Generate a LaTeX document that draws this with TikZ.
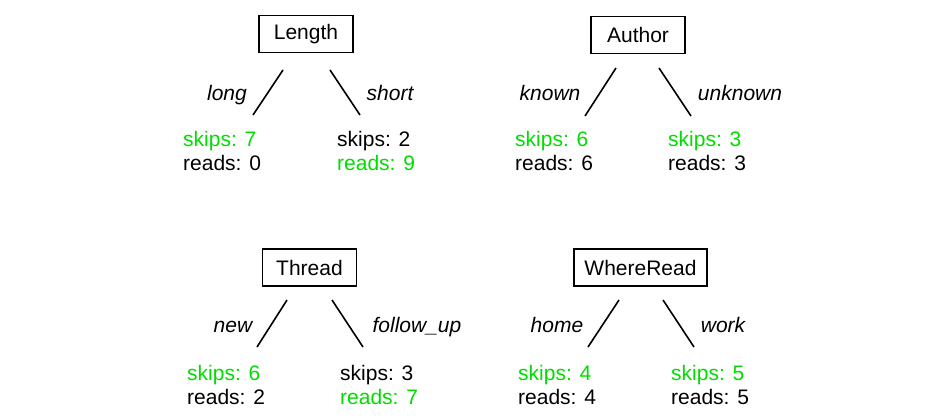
\documentclass[tikz,border=0pt]{standalone}
\usepackage{fontspec}
\setmainfont{Liberation Sans}
\definecolor{hit}{RGB}{0,221,0}
\begin{document}
\begin{tikzpicture}[x=1pt,y=-1pt,
  attr/.style={draw=black,line width=1.6pt,font=\fontsize{21}{25}\selectfont,minimum width=94pt,minimum height=37pt,inner xsep=10.5pt,inner ysep=0pt},
  val/.style={font=\fontsize{21}{25}\selectfont\itshape,anchor=base,inner sep=0pt},
  leaf/.style={font=\fontsize{21}{25}\selectfont,anchor=base west,inner sep=0pt},
  branch/.style={line width=1.6pt}]
\useasboundingbox (0,0) rectangle (950,420);
% Length
\node[attr] (len) at (306,34) {Length};
\coordinate (lenA1) at (283,70); \coordinate (lenA2) at (253,115);
\coordinate (lenB1) at (330,70); \coordinate (lenB2) at (360,115);
\draw[branch] (lenA1) -- (lenA2);
\draw[branch] (lenB1) -- (lenB2);
\node[val] (lenl) at (227,100) {long};
\node[val] (lens) at (390,100) {short};
\node[leaf,text=hit] (lenls) at (183,146) {skips: 7};
\node[leaf] (lenlr) at (183,170) {reads: 0};
\node[leaf] (lenss) at (337,146) {skips: 2};
\node[leaf,text=hit] (lensr) at (337,170) {reads: 9};
% Author
\node[attr] (aut) at (638,35) {Author};
\coordinate (autA1) at (616,68); \coordinate (autA2) at (585,116);
\coordinate (autB1) at (659,68); \coordinate (autB2) at (691,116);
\draw[branch] (autA1) -- (autA2);
\draw[branch] (autB1) -- (autB2);
\node[val] (autk) at (550,100) {known};
\node[val] (autu) at (740,100) {unknown};
\node[leaf,text=hit] (autks) at (515,146) {skips: 6};
\node[leaf] (autkr) at (515,170) {reads: 6};
\node[leaf,text=hit] (autus) at (668,146) {skips: 3};
\node[leaf] (autur) at (668,170) {reads: 3};
% Thread
\node[attr] (thr) at (309.5,267.5) {Thread};
\coordinate (thrA1) at (287,300); \coordinate (thrA2) at (257,347);
\coordinate (thrB1) at (332,300); \coordinate (thrB2) at (363,347);
\draw[branch] (thrA1) -- (thrA2);
\draw[branch] (thrB1) -- (thrB2);
\node[val] (thrn) at (233,332) {new};
\node[val] (thrf) at (417,332) {follow\_up};
\node[leaf,text=hit] (thrns) at (187,380) {skips: 6};
\node[leaf] (thrnr) at (187,404) {reads: 2};
\node[leaf] (thrfs) at (340,380) {skips: 3};
\node[leaf,text=hit] (thrfr) at (340,404) {reads: 7};
% WhereRead
\node[attr] (whr) at (640.5,267.5) {WhereRead};
\coordinate (whrA1) at (619,300); \coordinate (whrA2) at (588,347);
\coordinate (whrB1) at (663,300); \coordinate (whrB2) at (694,347);
\draw[branch] (whrA1) -- (whrA2);
\draw[branch] (whrB1) -- (whrB2);
\node[val] (whrh) at (557,332) {home};
\node[val] (whrw) at (723,332) {work};
\node[leaf,text=hit] (whrhs) at (518,380) {skips: 4};
\node[leaf] (whrhr) at (518,404) {reads: 4};
\node[leaf,text=hit] (whrws) at (671,380) {skips: 5};
\node[leaf] (whrwr) at (671,404) {reads: 5};
\end{tikzpicture}
\end{document}
